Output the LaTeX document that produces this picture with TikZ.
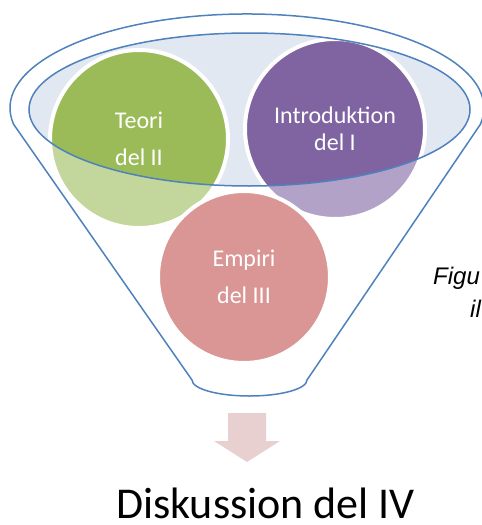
\documentclass[tikz,border=0pt]{standalone}
\usepackage{fontspec}
\setmainfont{Carlito}
\newfontfamily\captionfont{Liberation Sans}
\definecolor{funnelblue}{HTML}{4F81BD}
\definecolor{rimfill}{HTML}{E2E8F2}
\definecolor{partgreen}{HTML}{9BBB59}
\definecolor{partpurple}{HTML}{8064A2}
\definecolor{partred}{HTML}{D99694}
\definecolor{arrowpink}{HTML}{E8D0D0}

\begin{document}
\begin{tikzpicture}
[x=1pt, y=-1pt,
 part/.style={circle, draw=white, line width=4pt, inner sep=0pt, text=white, align=center},
 rim/.style={draw=funnelblue, line width=1.5pt},
 caption/.style={font=\captionfont\itshape\fontsize{24}{28}\selectfont, anchor=base west, inner sep=0pt}]
\useasboundingbox (0,0) rectangle (482,525);
% top of the funnel
\fill[rimfill] (249.5,109.5) ellipse [x radius=220.5, y radius=76.5];
\node[part, fill=partgreen, minimum size=178pt, font=\fontsize{24}{37}\selectfont] (teori) at (139,139) {Teori\\del II};
\node[part, fill=partpurple, minimum size=180pt, font=\fontsize{24}{27}\selectfont] (intro) at (335,129) {Introduktion\\del I};
% funnel body
\draw[rim, fill=white, fill opacity=.4, even odd rule]
 (13.6,124.3) arc[start angle=170, end angle=370, x radius=237, y radius=94]
 -- (307,380) arc[start angle=0, end angle=180, x radius=57.5, y radius=16] -- cycle
 (249.5,109.5) ellipse [x radius=220.5, y radius=76.5];
\node[part, fill=partred, minimum size=172pt, font=\fontsize{24}{37}\selectfont] (empiri) at (244,277) {Empiri\\del III};
% arrow
\fill[arrowpink] (228,413) -- (266,413) -- (266,441) -- (280,441) -- (247,462) -- (214,441) -- (228,441) -- cycle;
\node[font=\fontsize{44}{50}\selectfont, anchor=base, inner sep=0pt] (diskussion) at (265.5,518) {Diskussion del IV};
\node[caption] (figu) at (433,284) {Figu};
\node[caption] (il) at (470,317) {il};
\end{tikzpicture}
\end{document}
